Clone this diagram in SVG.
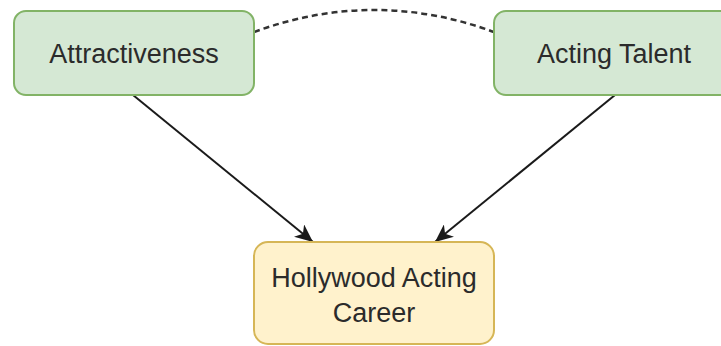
<svg xmlns="http://www.w3.org/2000/svg" width="721" height="346" viewBox="0 0 721 346">
  <style>
    .cause rect { fill: #d5e8d4; stroke: #82b366; stroke-width: 2; }
    .effect rect { fill: #fff2cc; stroke: #d6b656; stroke-width: 2; }
    text { font-family: "Liberation Sans", Arial, sans-serif; font-size: 27px; fill: #2b2b2b; text-anchor: middle; }
    .edge { fill: none; stroke: #1a1a1a; stroke-width: 2; }
    .assoc { fill: none; stroke: #333333; stroke-width: 2.5; stroke-dasharray: 6 4; }
  </style>
  <defs>
    <marker id="arrow" markerUnits="userSpaceOnUse" markerWidth="20" markerHeight="16" refX="18" refY="8" orient="auto">
      <path d="M0,0 L18,8 L0,16 L5,8 Z" fill="#1a1a1a"/>
    </marker>
  </defs>

  <rect width="721" height="346" fill="#ffffff"/>

  <g id="connectors">
    <path class="assoc" d="M254,32 Q374,-12 494,32"/>
    <line class="edge" x1="133" y1="95" x2="313" y2="242" marker-end="url(#arrow)"/>
    <line class="edge" x1="615" y1="95" x2="435" y2="242" marker-end="url(#arrow)"/>
  </g>

  <g id="attractiveness" class="cause">
    <rect x="14" y="11" width="240" height="84" rx="12" ry="12"/>
    <text x="134" y="63">Attractiveness</text>
  </g>

  <g id="acting-talent" class="cause">
    <rect x="494" y="11" width="240" height="84" rx="12" ry="12"/>
    <text x="614" y="63">Acting Talent</text>
  </g>

  <g id="hollywood-career" class="effect">
    <rect x="254" y="242" width="240" height="102" rx="14" ry="14"/>
    <text x="374" y="287">Hollywood Acting</text>
    <text x="374" y="322">Career</text>
  </g>
</svg>
